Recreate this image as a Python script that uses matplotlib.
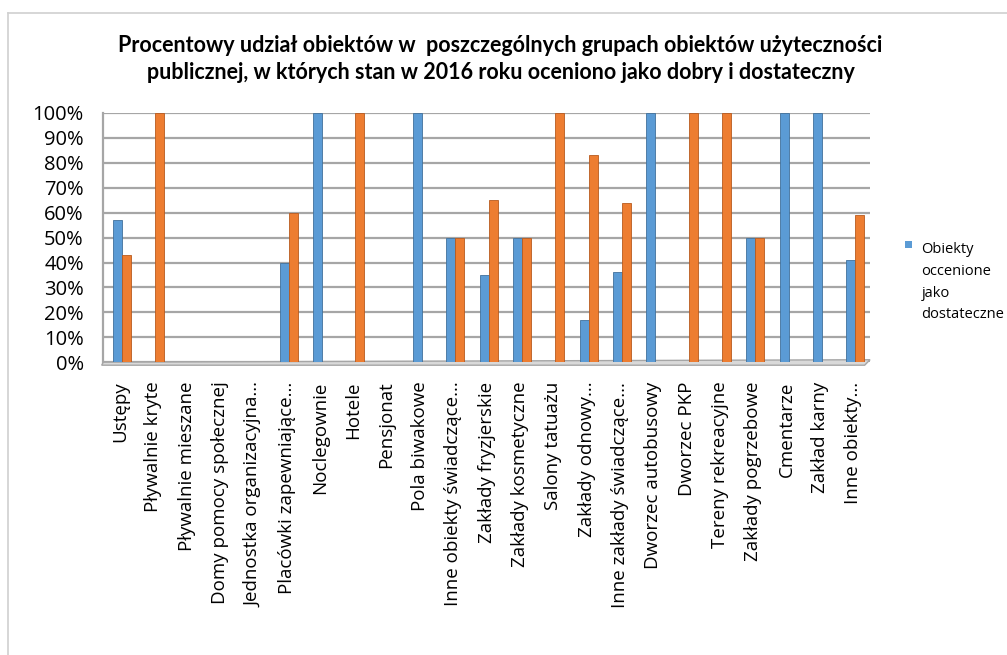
import matplotlib.pyplot as plt
import numpy as np
from matplotlib.patches import Polygon
from matplotlib.lines import Line2D

# categories (as shown, truncated the same way)
categories = ["Ustępy", "Pływalnie kryte", "Pływalnie mieszane", "Domy pomocy społecznej",
              "Jednostka organizacyjna...", "Placówki zapewniające...", "Noclegownie", "Hotele",
              "Pensjonat", "Pola biwakowe", "Inne obiekty świadczące...", "Zakłady fryzjerskie",
              "Zakłady kosmetyczne", "Salony tatuażu", "Zakłady odnowy...",
              "Inne zakłady świadczące...", "Dworzec autobusowy", "Dworzec PKP",
              "Tereny rekreacyjne", "Zakłady pogrzebowe", "Cmentarze", "Zakład karny",
              "Inne obiekty..."]
# percent of objects rated "dostateczny" (blue) and "dobry" (orange)
dostateczne = [57, 0, 0, 0, 0, 40, 100, 0, 0, 100, 50, 35, 50, 0, 17, 36, 100, 0, 0, 50, 100, 100, 41]
dobre = [43, 100, 0, 0, 0, 60, 0, 100, 0, 0, 50, 65, 50, 100, 83, 64, 0, 100, 100, 50, 0, 0, 59]
y_ticks = [0, 10, 20, 30, 40, 50, 60, 70, 80, 90, 100]

title = ("Procentowy udział obiektów w  poszczególnych grupach obiektów użyteczności\n"
         "publicznej, w których stan w 2016 roku oceniono jako dobry i dostateczny")

blue = "#5B9BD5"
orange = "#ED7D31"
grid_c = "#A6A6A6"

fig = plt.figure(figsize=(10.07, 6.55), dpi=100)
ax = fig.add_axes([0.1025, 0.447, 0.7615, 0.3805])

x = np.arange(len(categories))
w = 0.27
ax.bar(x + 0.06 - w / 2, dostateczne, w, color=blue, edgecolor="#41719C", linewidth=0.6, zorder=3)
ax.bar(x + 0.06 + w / 2, dobre, w, color=orange, edgecolor="#B85A1E", linewidth=0.6, zorder=3)

ax.set_xlim(-0.5, len(categories) - 0.5)
ax.set_ylim(0, 100)
ax.set_yticks(y_ticks)
ax.set_yticklabels([f"{v}%" for v in y_ticks], family="Open Sans", fontsize=14.5)
ax.set_xticks(x)
ax.set_xticklabels(categories, rotation=90, family="Open Sans", fontsize=13.5)
ax.tick_params(axis="both", length=0)
ax.tick_params(axis="y", pad=14)
ax.tick_params(axis="x", pad=14)

for v in y_ticks:
    ax.axhline(v, color=grid_c, linewidth=1.6, zorder=1)
for s in ["top", "right", "bottom"]:
    ax.spines[s].set_visible(False)
ax.spines["left"].set_color(grid_c)
ax.spines["left"].set_linewidth(1.6)

# floor of the 3D-like chart
floor = Polygon([(0, 0), (1.0, 0.01), (0.993, -0.012), (-0.002, -0.012)], closed=True,
                transform=ax.transAxes, facecolor="#D9D9D9", edgecolor=grid_c,
                linewidth=1.0, clip_on=False, zorder=2)
ax.add_patch(floor)

fig.text(0.497, 0.91, title, ha="center", va="center", family="Lato",
         fontweight="bold", fontsize=15.5, linespacing=1.35)

# legend (only the first entry is visible, clipped at the right edge)
fig.patches.append(plt.Rectangle((0.8985, 0.621), 0.0075, 0.0115, transform=fig.transFigure,
                                 facecolor=blue, edgecolor="none"))
fig.text(0.915, 0.63, "Obiekty\noccenione\njako\ndostateczne", ha="left", va="top",
         family="Open Sans", fontsize=10.5, linespacing=1.6)

# outer chart border
fig.lines.append(Line2D([0.008, 0.008], [0.98, 0.0], transform=fig.transFigure,
                        color="#D0D0D0", linewidth=1.2))
fig.lines.append(Line2D([0.008, 1.0], [0.98, 0.98], transform=fig.transFigure,
                        color="#D0D0D0", linewidth=1.2))

fig.savefig("out.png", dpi=100)
